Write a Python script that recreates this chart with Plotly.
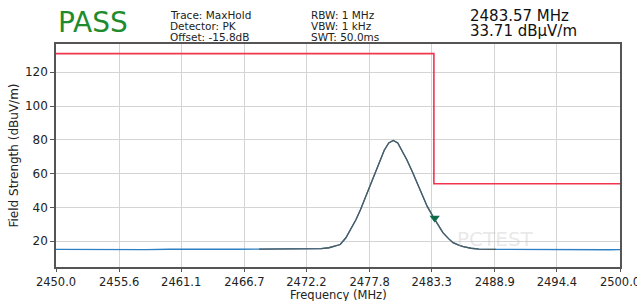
import plotly.graph_objects as go

# ---- data ----
freq_mhz = [2450.0, 2452.0, 2454.0, 2456.0, 2458.0, 2460.0, 2462.0, 2464.0, 2466.0, 2468.0,
            2470.0, 2472.0, 2473.5, 2474.2, 2474.8, 2475.2, 2475.7, 2476.1, 2476.6, 2477.0,
            2477.4, 2477.8, 2478.3, 2478.7, 2479.1, 2479.5, 2479.9, 2480.3, 2480.7, 2481.1,
            2481.6, 2482.0, 2482.5, 2482.9, 2483.4, 2483.9, 2484.3, 2484.8, 2485.2, 2485.7,
            2486.1, 2486.8, 2487.5, 2489.0, 2491.0, 2493.0, 2495.0, 2497.0, 2499.0, 2500.0]
level_dbuv = [15.1, 15.0, 15.2, 15.1, 15.0, 15.2, 15.1, 15.3, 15.2, 15.3,
              15.4, 15.5, 15.6, 16.1, 17.0, 18.0, 22.0, 26.9, 32.8, 38.7,
              45.5, 52.5, 60.5, 68.2, 73.8, 78.1, 79.6, 78.1, 73.5, 68.2,
              61.0, 54.5, 47.5, 40.7, 34.8, 29.5, 25.0, 21.5, 19.1, 17.6,
              16.7, 15.8, 15.3, 15.1, 15.0, 15.1, 14.9, 15.0, 14.9, 15.0]
limit_freq = [2450.0, 2483.5, 2483.5, 2500.0]
limit_level = [131.0, 131.0, 54.0, 54.0]
marker_freq = [2483.57]
marker_level = [33.71]
tick_vals = [2450.0, 2455.6, 2461.1, 2466.7, 2472.2, 2477.8, 2483.3, 2488.9, 2494.4, 2500.0]
tick_text = ["2450.0", "2455.6", "2461.1", "2466.7", "2472.2", "2477.8", "2483.3", "2488.9", "2494.4", "2500.0"]

FONT = "DejaVu Sans"

fig = go.Figure()
fig.add_trace(go.Scatter(x=freq_mhz, y=level_dbuv, mode="lines",
                         line=dict(color="#2f7fc4", width=1.3), hoverinfo="skip"))
fig.add_trace(go.Scatter(x=freq_mhz[9:44], y=level_dbuv[9:44], mode="lines",
                         line=dict(color="#4f5b5b", width=1.3), hoverinfo="skip"))
fig.add_trace(go.Scatter(x=limit_freq, y=limit_level, mode="lines",
                         line=dict(color="#f2344f", width=1.6), hoverinfo="skip"))
fig.add_trace(go.Scatter(x=marker_freq, y=marker_level, mode="markers",
                         marker=dict(symbol="triangle-down", size=9, color="#0e6b4a"),
                         hoverinfo="skip"))

fig.update_layout(
    width=637, height=301,
    margin=dict(l=56, r=17, t=44, b=34),
    paper_bgcolor="white", plot_bgcolor="white",
    showlegend=False,
    font=dict(family=FONT, size=12, color="#222"),
)
fig.update_xaxes(range=[2450, 2500], tickvals=tick_vals, ticktext=tick_text,
                 showgrid=True, gridcolor="#d4d4d4", gridwidth=1,
                 showline=True, mirror=True, linecolor="#555", linewidth=1.5,
                 ticks="outside", ticklen=3, tickcolor="#555",
                 tickfont=dict(size=11.5, color="#222"), zeroline=False,
                 ticklabeloverflow="allow", automargin=False)
fig.update_yaxes(range=[4.7, 136.7], tickvals=[20, 40, 60, 80, 100, 120],
                 showgrid=True, gridcolor="#d4d4d4", gridwidth=1,
                 showline=True, mirror=True, linecolor="#555", linewidth=1.5,
                 ticks="outside", ticklen=4, tickcolor="#555",
                 tickfont=dict(size=12, color="#222"), zeroline=False, automargin=False,
                 title=dict(text="Field Strength (dBuV/m)", font=dict(size=12), standoff=4))

ann = [
    dict(text="PASS", x=56, y=23, font=dict(size=28, color="#1e8c2e")),
    dict(text="Trace: MaxHold", x=168, y=15, font=dict(size=10.5, color="#222")),
    dict(text="Detector: PK", x=168, y=26, font=dict(size=10.5, color="#222")),
    dict(text="Offset: -15.8dB", x=168, y=37, font=dict(size=10.5, color="#222")),
    dict(text="RBW: 1 MHz", x=309, y=15, font=dict(size=10.5, color="#222")),
    dict(text="VBW: 1 kHz", x=309, y=26, font=dict(size=10.5, color="#222")),
    dict(text="SWT: 50.0ms", x=309, y=37, font=dict(size=10.5, color="#222")),
    dict(text="2483.57 MHz", x=468, y=16.5, font=dict(size=15, color="#111")),
    dict(text="33.71 dBµV/m", x=468, y=31, font=dict(size=15, color="#111")),
]
for a in ann:
    fig.add_annotation(text=a["text"], xref="paper", yref="paper",
                       x=(a["x"] - 56) / 564, y=1 + (44 - a["y"]) / 223,
                       xanchor="left", yanchor="middle", showarrow=False,
                       font=dict(family=FONT, **a["font"]))

# x-axis title placed explicitly
fig.add_annotation(text="Frequency (MHz)", xref="paper", yref="paper",
                   x=0.5, y=-(295 - 267) / 223, xanchor="center", yanchor="middle",
                   showarrow=False, font=dict(family=FONT, size=11.5, color="#222"))

fig.add_annotation(text="PCTEST", xref="x", yref="y", x=2489.0, y=21,
                   showarrow=False, font=dict(family=FONT, size=20, color="rgba(180,180,180,0.3)"))

fig.write_html("out.html", config={"displayModeBar": False},
               post_script="document.body.style.margin='0';document.body.style.overflow='hidden';")
